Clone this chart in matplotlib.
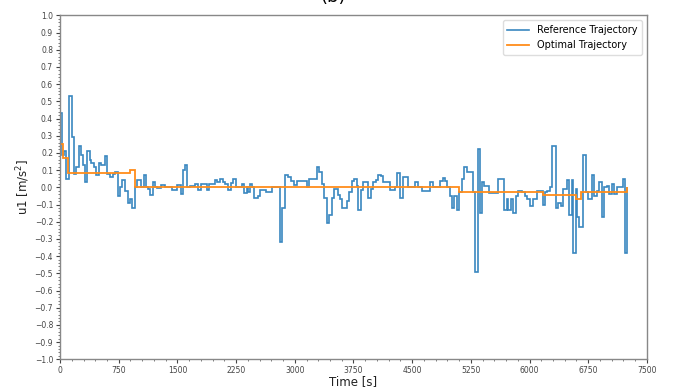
"""
u1 acceleration: reference vs optimal trajectory (step plot)
"""

import numpy as np
import matplotlib
matplotlib.use("Agg")
import matplotlib.pyplot as plt
from matplotlib.ticker import MultipleLocator, AutoMinorLocator

# Reference trajectory: start time of each step [s] and value [m/s^2]
ref_start = [0, 22, 51, 81, 115, 153, 179, 209, 239, 264, 294, 315, 349, 379, 400,
             435, 464, 494, 528, 571, 605, 635, 677, 707, 737, 767, 796, 830, 865,
             895, 924, 958, 985, 1039, 1073, 1103, 1130, 1150, 1184, 1214, 1244,
             1286, 1342, 1427, 1491, 1542, 1567, 1597, 1627, 1661, 1725, 1768, 1798,
             1874, 1908, 1981, 2011, 2045, 2079, 2109, 2151, 2181, 2215, 2249, 2322,
             2351, 2385, 2398, 2428, 2458, 2483, 2526, 2556, 2628, 2705, 2811, 2841,
             2875, 2918, 2952, 2994, 3024, 3152, 3182, 3280, 3310, 3344, 3378, 3408,
             3437, 3472, 3506, 3548, 3578, 3608, 3663, 3697, 3727, 3757, 3791, 3812,
             3842, 3876, 3940, 3970, 4004, 4038, 4068, 4098, 4132, 4217, 4281, 4311,
             4345, 4379, 4451, 4537, 4579, 4622, 4728, 4762, 4856, 4890, 4920, 4950,
             4984, 5005, 5035, 5069, 5103, 5133, 5163, 5197, 5273, 5303, 5346, 5367,
             5388, 5418, 5486, 5601, 5678, 5708, 5729, 5759, 5793, 5827, 5857, 5900,
             5942, 5972, 6006, 6049, 6091, 6168, 6198, 6228, 6262, 6283, 6338, 6368,
             6398, 6432, 6483, 6509, 6539, 6560, 6594, 6611, 6637, 6679, 6722, 6752,
             6794, 6824, 6858, 6892, 6922, 6952, 6986, 7020, 7050, 7080, 7114, 7190,
             7220]
ref_u1 = [0.43, 0.19, 0.21, 0.05, 0.53, 0.29, 0.08, 0.12, 0.24, 0.19, 0.13, 0.03, 0.21,
          0.16, 0.14, 0.12, 0.07, 0.14, 0.13, 0.18, 0.08, 0.06, 0.08, 0.09, -0.05, 0.0,
          0.04, -0.02, -0.09, -0.07, -0.12, 0.0, 0.04, 0.0, 0.07, 0.0, -0.01, -0.045,
          0.03, 0.0, -0.005, 0.015, 0.0, -0.015, 0.015, -0.04, 0.10, 0.13, 0.0, 0.01,
          0.02, -0.015, 0.02, -0.015, 0.02, 0.04, 0.03, 0.05, 0.03, 0.02, -0.015, 0.025,
          0.05, 0.0, 0.02, -0.035, 0.0, -0.03, 0.02, 0.0, -0.06, -0.05, -0.015, -0.03,
          0.0, -0.32, -0.12, 0.07, 0.06, 0.034, 0.015, 0.034, 0.0, 0.05, 0.12, 0.09,
          0.02, -0.06, -0.21, -0.16, -0.06, -0.01, -0.045, -0.07, -0.12, -0.08, -0.03,
          0.034, 0.048, 0.005, -0.13, -0.015, 0.03, -0.06, -0.01, 0.03, 0.04, 0.073,
          0.063, 0.03, -0.015, 0.0, 0.086, -0.06, 0.06, 0.0, 0.03, 0.0, -0.02, 0.03,
          0.0, 0.034, 0.054, 0.034, 0.0, -0.05, -0.12, -0.05, -0.13, -0.03, 0.05, 0.12,
          0.09, -0.03, -0.49, 0.22, -0.15, 0.03, 0.01, -0.035, 0.05, -0.13, -0.07,
          -0.13, -0.07, -0.15, -0.05, -0.02, -0.03, -0.05, -0.07, -0.11, -0.07, -0.02,
          -0.10, -0.03, -0.02, 0.0, 0.24, -0.12, -0.09, -0.11, -0.01, 0.04, -0.16, 0.04,
          -0.38, -0.01, -0.17, -0.23, 0.19, -0.03, -0.07, 0.07, -0.05, -0.02, 0.03,
          -0.17, 0.0, 0.01, -0.04, 0.02, -0.04, 0.0, 0.05, -0.38]
t_end = 7250

# Optimal trajectory: piecewise constant
opt_start = [0, 42, 98, 895, 958, 5096, 6167, 6593, 6657]
opt_u1 = [0.25, 0.17, 0.086, 0.10, 0.0, -0.03, -0.047, -0.067, -0.03]


def main():
    ref_edges = np.array(ref_start + [t_end], dtype=float)
    opt_edges = np.array(opt_start + [t_end], dtype=float)

    fig = plt.figure(figsize=(6.73, 3.9), dpi=100)
    ax = fig.add_axes([0.0892, 0.0787, 0.872, 0.882])

    ax.stairs(ref_u1, ref_edges, color="#3a87c0", linewidth=1.2,
              label="Reference Trajectory")
    ax.stairs(opt_u1, opt_edges, color="#ff8c1a", linewidth=1.3,
              label="Optimal Trajectory")

    ax.set_xlim(0, 7500)
    ax.set_ylim(-1.0, 1.0)
    ax.xaxis.set_major_locator(MultipleLocator(750))
    ax.yaxis.set_major_locator(MultipleLocator(0.1))
    ax.xaxis.set_minor_locator(AutoMinorLocator(5))
    ax.yaxis.set_minor_locator(AutoMinorLocator(5))
    ax.yaxis.set_major_formatter(plt.FuncFormatter(lambda v, p: f"{v:.1f}".replace("-", "\u2212")))

    ax.tick_params(axis="both", which="major", labelsize=5.5, length=3,
                   width=0.8, colors="#444444", pad=2)
    ax.tick_params(axis="both", which="minor", length=1.5, width=0.6,
                   colors="#666666")
    for s in ax.spines.values():
        s.set_color("#888888")
        s.set_linewidth(1.0)

    ax.set_xlabel("Time [s]", fontsize=8.5, labelpad=0, color="#222222")
    ax.set_ylabel("u1 [m/s$^2$]", fontsize=8.5, labelpad=2, color="#222222")

    ax.legend(loc="upper right", fontsize=7, frameon=True, framealpha=1.0,
              edgecolor="#dddddd", handlelength=2.2, borderpad=0.5)

    # panel label, mostly cut off at the top edge
    fig.text(0.495, 1 - 1.5 / 390, "(b)", ha="center", va="baseline", fontsize=13)

    fig.savefig("out.png", dpi=100)


if __name__ == "__main__":
    main()
